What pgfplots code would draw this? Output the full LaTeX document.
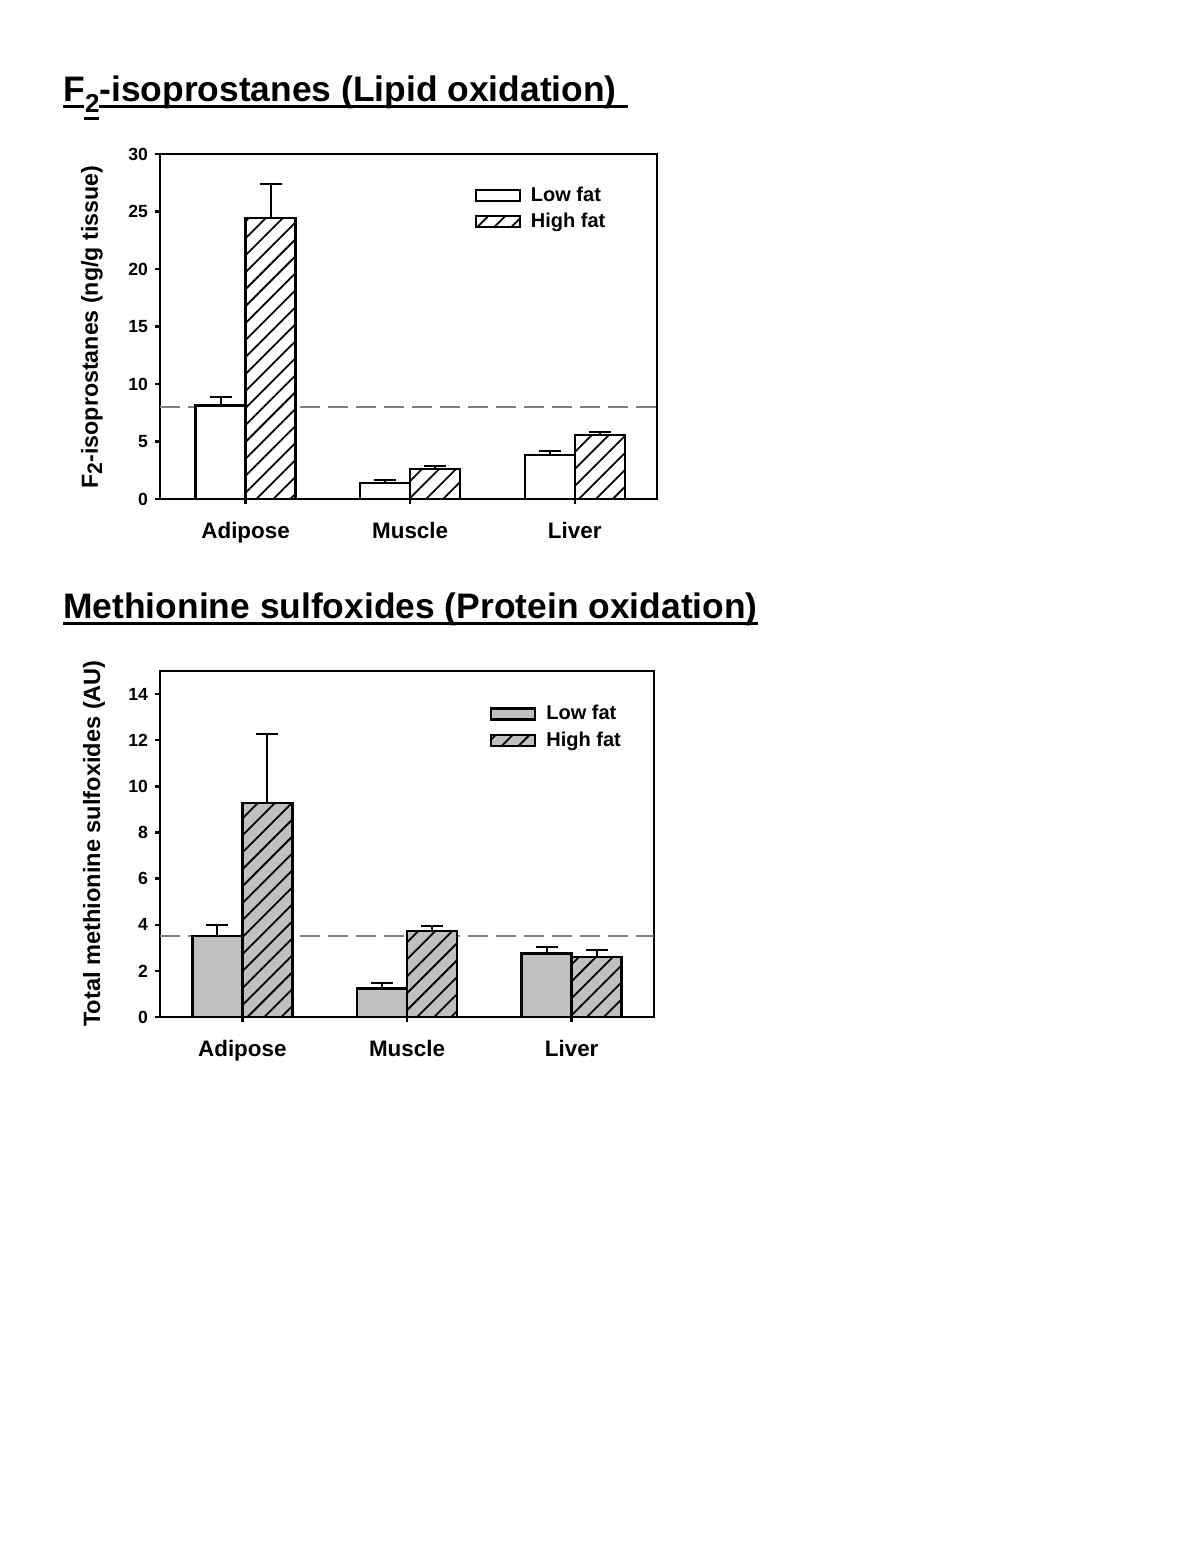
\documentclass[border=0pt]{standalone}
\usepackage{pgfplots}
\pgfplotsset{compat=1.18}
\usepackage{pgfplotstable}
\usepackage{fontspec}
\setmainfont{Liberation Sans}
\usetikzlibrary{patterns.meta}
\definecolor{barg}{RGB}{192,192,192}

\pgfplotstableread{
x low lowerr high higherr
0 8.14 0.69 24.44 2.96
1 1.39 0.29 2.61 0.29
2 3.85 0.29 5.59 0.24
}\lipid

\pgfplotstableread{
x low lowerr high higherr
0 3.51 0.48 9.28 2.99
1 1.24 0.22 3.74 0.21
2 2.76 0.27 2.61 0.29
}\protein

\pgfplotsset{
  mybase/.style={
    scale only axis,
    anchor=south west,
    ybar=0pt, bar width=25pt,
    ymin=0,
    xtick={0,1,2}, xticklabels={Adipose,Muscle,Liver},
    tick pos=left, tick align=outside,
    major tick length=2.5pt,
    axis line style={line width=1.3pt},
    every tick/.style={black, line width=1.2pt},
    /pgf/number format/assume math mode=true,
    yticklabel style={font=\bfseries\fontsize{8.8}{10}\selectfont},
    xticklabel style={font=\bfseries\fontsize{11.2}{13}\selectfont, yshift=-5.5pt},
    legend style={draw=none, fill=none, anchor=north west,
      font=\bfseries\fontsize{10}{12}\selectfont, row sep=0.5pt},
    legend cell align=left,
  },
  mylegend/.style={legend image code/.code={\draw[##1] (0pt,-2.75pt) rectangle (22pt,2.75pt);}},
  mybar/.style={draw=black, line width=1.2pt, mylegend,
    error bars/y dir=plus, error bars/y explicit,
    error bars/error bar style={line width=1pt, black},
    error bars/error mark options={rotate=90, mark size=5.5pt, line width=1pt, black}},
  refline/.style={sharp plot, gray, line width=1pt, dash pattern=on 10pt off 4pt, forget plot, mark=none},
}

\begin{document}
\begin{tikzpicture}
\path[use as bounding box] (0pt,0pt) rectangle (600pt,-776.5pt);

% Titles
\node[anchor=base west, inner sep=0pt, font=\bfseries\fontsize{17.7}{20}\selectfont] (t1) at (31.5pt,-50.5pt)
  {F\raisebox{-5.5pt}{\fontsize{13}{13}\selectfont 2}-isoprostanes (Lipid oxidation)\kern5.5pt\strut};
\draw[line width=1.3pt] ([yshift=-2.8pt]t1.base west) -- ++(10.6pt,0pt);
\draw[line width=1.3pt] ([xshift=10.6pt,yshift=-8.8pt]t1.base west) -- ++(7.4pt,0pt);
\draw[line width=1.3pt] ([xshift=18pt,yshift=-2.8pt]t1.base west) -- ([yshift=-2.8pt]t1.base east);

\node[anchor=base west, inner sep=0pt, font=\bfseries\fontsize{17.7}{20}\selectfont] (t2) at (31.5pt,-309pt)
  {Methionine sulfoxides (Protein oxidation)};
\draw[line width=1.3pt] ([yshift=-2.8pt]t2.base west) -- ([yshift=-2.8pt]t2.base east);

% Y labels
\node[rotate=90, font=\bfseries\fontsize{11.6}{13}\selectfont] at (46pt,-163.5pt)
  {F\raisebox{-0.35ex}{\fontsize{10.5}{10.5}\selectfont 2}-isoprostanes (ng/g tissue)};
\node[rotate=90, font=\bfseries\fontsize{11.8}{13}\selectfont] at (47pt,-421.75pt)
  {Total methionine sulfoxides (AU)};

% Top axis
\begin{axis}[mybase,
  at={(80pt,-249.5pt)}, width=248.5pt, height=172.5pt,
  xmin=-0.52, xmax=2.5, ymax=30, ytick={0,5,...,30},
  legend style={at={(rel axis cs:0.62,0.93)}},
]
\addplot[refline] coordinates {(-0.52,8) (2.5,8)};
\addplot[mybar, fill=white]
  table[x=x, y=low, y error=lowerr] {\lipid};
\addlegendentry{\hspace{3pt}Low fat}
\addplot[mybar, fill=white,
  postaction={pattern={Lines[angle=45,distance=6pt,line width=0.9pt]}}]
  table[x=x, y=high, y error=higherr] {\lipid};
\addlegendentry{\hspace{3pt}High fat}
\end{axis}

% Bottom axis
\begin{axis}[mybase,
  at={(80pt,-508.5pt)}, width=247pt, height=173pt,
  xmin=-0.5, xmax=2.5, ymax=15, ytick={0,2,...,14},
  legend style={at={(rel axis cs:0.655,0.925)}},
]
\addplot[refline] coordinates {(-0.5,3.51) (2.5,3.51)};
\addplot[mybar, fill=barg]
  table[x=x, y=low, y error=lowerr] {\protein};
\addlegendentry{\hspace{3pt}Low fat}
\addplot[mybar, fill=barg,
  postaction={pattern={Lines[angle=45,distance=6pt,line width=0.9pt]}}]
  table[x=x, y=high, y error=higherr] {\protein};
\addlegendentry{\hspace{3pt}High fat}
\end{axis}
\end{tikzpicture}
\end{document}
